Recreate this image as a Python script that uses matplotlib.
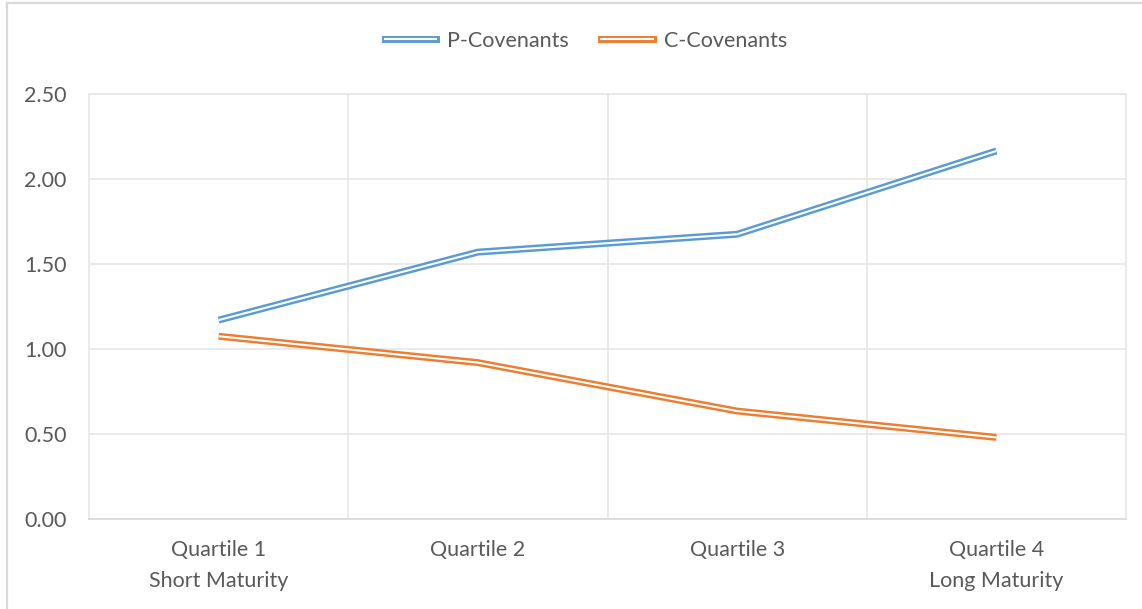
import matplotlib.pyplot as plt
from matplotlib.lines import Line2D

# === DATA ===
categories = ["Quartile 1\nShort Maturity", "Quartile 2", "Quartile 3", "Quartile 4\nLong Maturity"]
p_covenants = [1.17, 1.57, 1.675, 2.165]
c_covenants = [1.075, 0.92, 0.635, 0.48]

# === STYLE ===
plt.rcParams['font.family'] = ['Lato', 'DejaVu Sans']
text_color = '#595959'
grid_color = '#e6e6e6'
blue = '#5B9BD5'
orange = '#ED7D31'
outer_lw = 5.0
inner_lw = 1.5
fsize = 15.5

fig = plt.figure(figsize=(11.42, 6.09), dpi=100)
ax = fig.add_axes([89 / 1142, 90 / 609, (1126 - 89) / 1142, (519 - 94) / 609])

x = list(range(len(categories)))
for vals, col in [(p_covenants, blue), (c_covenants, orange)]:
    ax.plot(x, vals, color=col, lw=outer_lw, solid_joinstyle='miter', solid_capstyle='butt', zorder=3)
    ax.plot(x, vals, color='white', lw=inner_lw, solid_joinstyle='miter', solid_capstyle='butt', zorder=4)

ax.set_xlim(-0.5, len(categories) - 0.5)
ax.set_ylim(0, 2.5)
ax.set_yticks([0, 0.5, 1.0, 1.5, 2.0, 2.5])
ax.set_yticklabels([f"{v:.2f}" for v in [0, 0.5, 1.0, 1.5, 2.0, 2.5]])
ax.set_xticks(x)
ax.set_xticklabels(categories, linespacing=1.7)
ax.set_xticks([0.5, 1.5, 2.5], minor=True)

ax.grid(axis='y', color=grid_color, lw=1.2)
ax.grid(axis='x', which='minor', color=grid_color, lw=1.2)
ax.set_axisbelow(True)
ax.tick_params(which='both', length=0, colors=text_color, labelsize=fsize)
ax.tick_params(axis='y', pad=16)
ax.tick_params(axis='x', pad=15)
for name, sp in ax.spines.items():
    sp.set_color(grid_color)
    sp.set_linewidth(1.2)
ax.spines['bottom'].set_color('#d9d9d9')

# legend with double-line handles
handles = [
    (Line2D([], [], color=blue, lw=outer_lw), Line2D([], [], color='white', lw=inner_lw)),
    (Line2D([], [], color=orange, lw=outer_lw), Line2D([], [], color='white', lw=inner_lw)),
]
fig.legend(handles, ["P-Covenants", "C-Covenants"], loc='center', bbox_to_anchor=(0.513, 1 - 41 / 609),
           ncol=2, frameon=False, fontsize=fsize, labelcolor=text_color, handlelength=2.4,
           handletextpad=0.5, columnspacing=1.5)

# chart area border (left and top)
fig.add_artist(Line2D([6.5 / 1142, 6.5 / 1142], [0, 1 - 3 / 609], color='#d9d9d9', lw=1.6,
                      transform=fig.transFigure))
fig.add_artist(Line2D([6.5 / 1142, 1], [1 - 3 / 609, 1 - 3 / 609], color='#d9d9d9', lw=1.6,
                      transform=fig.transFigure))

fig.savefig("out.png", dpi=100)
